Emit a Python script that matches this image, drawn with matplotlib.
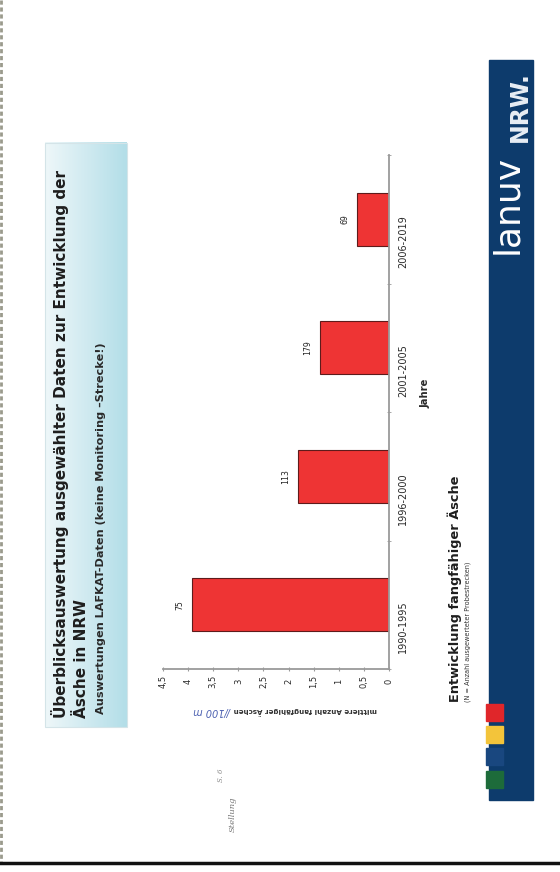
import matplotlib
matplotlib.use("Agg")
import matplotlib.pyplot as plt
from matplotlib.patches import Rectangle
from matplotlib.colors import to_rgb
import numpy as np

# Daten: mittlere Anzahl fangfähiger Äschen je 100 m, N = ausgewertete Probestrecken
perioden = ["1990-1995", "1996-2000", "2001-2005", "2006-2019"]
mittelwerte = [3.92, 1.82, 1.38, 0.64]
n_strecken = [75, 113, 179, 69]
werte_ticks = [0, 0.5, 1, 1.5, 2, 2.5, 3, 3.5, 4, 4.5]
werte_labels = ["0", "0,5", "1", "1,5", "2", "2,5", "3", "3,5", "4", "4,5"]

W, H = 560, 872
fig = plt.figure(figsize=(W / 100, H / 100), dpi=100)
fig.patch.set_facecolor("white")

# Hintergrundebene in Pixelkoordinaten, die Folie liegt um 90 Grad gedreht
bg = fig.add_axes([0, 0, 1, 1])
bg.set_xlim(0, W)
bg.set_ylim(H, 0)
bg.axis("off")


def px(x0, y0, x1, y1):
    return [x0 / W, 1 - y1 / H, (x1 - x0) / W, (y1 - y0) / H]


def vtext(x, y, s, size, **kw):
    kw.setdefault("ha", "left")
    kw.setdefault("va", "center")
    kw.setdefault("rotation", 90)
    bg.text(x, y, s, fontsize=size, rotation_mode="anchor", **kw)


# Scanrand links und unten
bg.plot([1.2, 1.2], [0, 862], color="#9a9a8c", lw=2, ls=(0, (1.5, 1)))
bg.plot([0, W], [863, 863], color="#111111", lw=2.5)

# Titelkasten mit Verlauf
c0, c1 = np.array(to_rgb("#eef7f9")), np.array(to_rgb("#b3dee8"))
t = np.linspace(0, 1, 64)[None, :, None]
grad = c0 + (c1 - c0) * t
bg.imshow(grad, extent=(45, 127, 727, 143), aspect="auto", zorder=1)
bg.add_patch(Rectangle((45, 143), 82, 584, fill=False, ec="#d4e4e8", lw=0.8, zorder=2))
bg.set_xlim(0, W)
bg.set_ylim(H, 0)

vtext(60, 718, "Überblicksauswertung ausgewählter Daten zur Entwicklung der", 11,
      fontweight="bold", color="#1e1e1e", zorder=3)
vtext(81, 718, "Äsche in NRW", 11, fontweight="bold", color="#1e1e1e", zorder=3)
vtext(101, 714, "Auswertungen LAFKAT-Daten (keine Monitoring \u2013Strecke!)", 8.1,
      fontweight="bold", color="#2a2a2a", zorder=3)

# Balkendiagramm
ax = fig.add_axes(px(163, 155, 389, 669))
pos = np.arange(len(perioden))
ax.barh(pos, mittelwerte, height=0.41, color="#ee3434", edgecolor="#5e1b1b", linewidth=0.8)
ax.set_xlim(4.5, 0)
ax.set_ylim(-0.5, 3.5)
ax.patch.set_alpha(0)

for s in ["top", "left"]:
    ax.spines[s].set_visible(False)
for s in ["right", "bottom"]:
    ax.spines[s].set_color("#9a9a9a")
    ax.spines[s].set_linewidth(1.3)

ax.yaxis.tick_right()
ax.set_yticks(pos, perioden)
ax.set_yticks([-0.5, 0.5, 1.5, 2.5, 3.5], minor=True)
ax.tick_params(axis="y", which="major", length=0, pad=6.5, labelsize=7, labelrotation=90,
               labelcolor="#2a2a2a")
ax.tick_params(axis="y", which="minor", length=3, direction="inout", color="#9a9a9a")

ax.set_xticks(werte_ticks, werte_labels)
ax.tick_params(axis="x", length=3, direction="inout", color="#9a9a9a", pad=7.5,
               labelsize=6, labelrotation=90, labelcolor="#2a2a2a")
for lab in ax.get_xticklabels():
    lab.set_va("center")

for p, v, n in zip(pos, mittelwerte, n_strecken):
    ax.annotate(str(n), (v, p), xytext=(-8.5, 0), textcoords="offset points",
                rotation=90, ha="center", va="center", fontsize=5.6, color="#222222")

# Achsenbeschriftungen
vtext(377, 711, "mittlere Anzahl fangfähiger Äschen", 5.1, rotation=180,
      fontweight="bold", color="#333333")
vtext(232, 711, "//100 m", 7, rotation=180, style="italic", color="#4a5fb0")
vtext(425, 408, "Jahre", 7.2, fontweight="bold", color="#2a2a2a")

vtext(455, 702, "Entwicklung fangfähiger Äsche", 9.3, fontweight="bold", color="#1e1e1e")
vtext(468, 702, "(N = Anzahl ausgewerteter Probestrecken)", 4.7, color="#333333")

# handschriftlicher Vermerk
vtext(233, 832, "Stellung", 6, style="italic", color="#777777", family="DejaVu Serif")
vtext(221, 782, "S. 6", 5, style="italic", color="#888888", family="DejaVu Serif")

# LANUV-Leiste
bg.add_patch(Rectangle((489, 60), 44, 740, color="#0d3b6c", zorder=2))
for y0, col in zip([704, 726, 748, 771], ["#e0262a", "#f3c43a", "#19477f", "#1d6b3a"]):
    bg.add_patch(Rectangle((486, y0), 17, 17, color=col, zorder=3))
vtext(517, 254, "lanuv", 26, va="baseline", color="white", zorder=4)
vtext(527, 142, "NRW.", 17, va="baseline", color="#e8eef5", fontweight="bold", zorder=4)

fig.savefig("out.png", dpi=100, facecolor="white")
